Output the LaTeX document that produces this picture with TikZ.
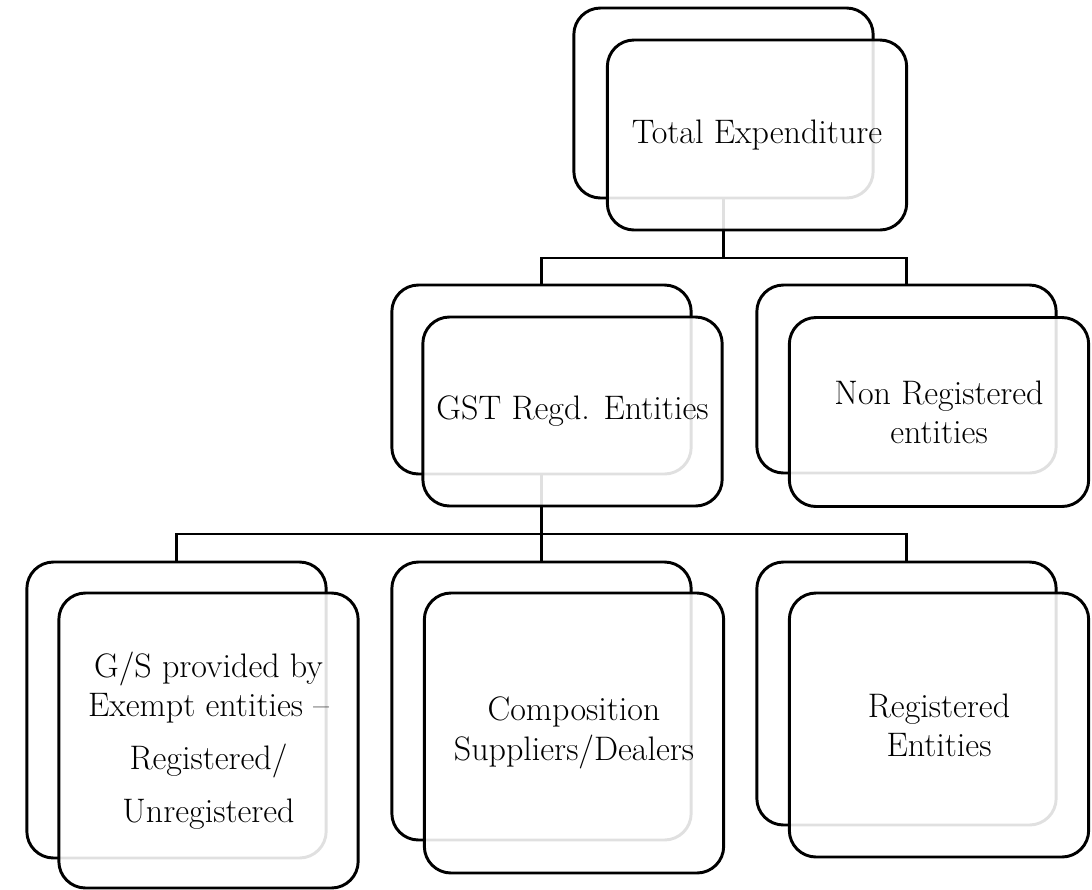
\documentclass[tikz,border=0pt]{standalone}
\usetikzlibrary{positioning}

\tikzset{every picture/.style={line width=2.2pt}}
\tikzset{
  backcard/.style={draw, rounded corners=20pt, minimum width=224.5pt, inner sep=0pt},
  frontcard/.style={draw, rounded corners=20pt, minimum width=224.5pt, fill=white, fill opacity=0.88, text opacity=1, align=center, inner sep=0pt,
    font=\fontsize{25.5}{29.5}\selectfont},
  link/.style={draw, line width=2.2pt}
}

\begin{document}
\begin{tikzpicture}[x=0.75pt,y=0.75pt,yscale=-1,xscale=1]
    \useasboundingbox (0,0) rectangle (1092,889);

    % back cards
    \node [backcard, minimum height=142.5pt] (totb) at (723.5,103) {};
    \node [backcard, minimum height=141.75pt] (gstb) at (541.5,379.5) {};
    \node [backcard, minimum height=141pt] (nrb) at (906.5,379) {};
    \node [backcard, minimum height=222pt] (gsb) at (176.5,710) {};
    \node [backcard, minimum height=208.5pt] (compb) at (541.5,701) {};
    \node [backcard, minimum height=197.25pt] (regb) at (906.5,693.5) {};

    % connectors
    \coordinate (jtop) at (723.5,258);
    \coordinate (jmid) at (541.5,534);
    \draw [link] (totb.south) -- (jtop);
    \draw [link] (gstb.north) |- (jtop);
    \draw [link] (nrb.north) |- (jtop);
    \draw [link] (gstb.south) -- (jmid);
    \draw [link] (gsb.north) |- (jmid);
    \draw [link] (compb.north) -- (jmid);
    \draw [link] (regb.north) |- (jmid);

    % front cards
    \node [frontcard, minimum height=142.5pt] (totf) at (757,135) {Total Expenditure};
    \node [frontcard, minimum height=141.75pt] (gstf) at (572.5,411.5) {GST Regd. Entities};
    \node [frontcard, minimum height=141.75pt] (nrf) at (939,412) {Non Registered\\entities};
    \node [frontcard, minimum height=221.25pt] (gsf) at (208.5,740.5) {G/S provided by\\Exempt entities --\\[10pt]Registered/\\[10pt]Unregistered};
    \node [frontcard, minimum height=210pt] (compf) at (574,733) {Composition\\Suppliers/Dealers};
    \node [frontcard, minimum height=198pt] (regf) at (939,725) {Registered\\Entities};
\end{tikzpicture}
\end{document}
